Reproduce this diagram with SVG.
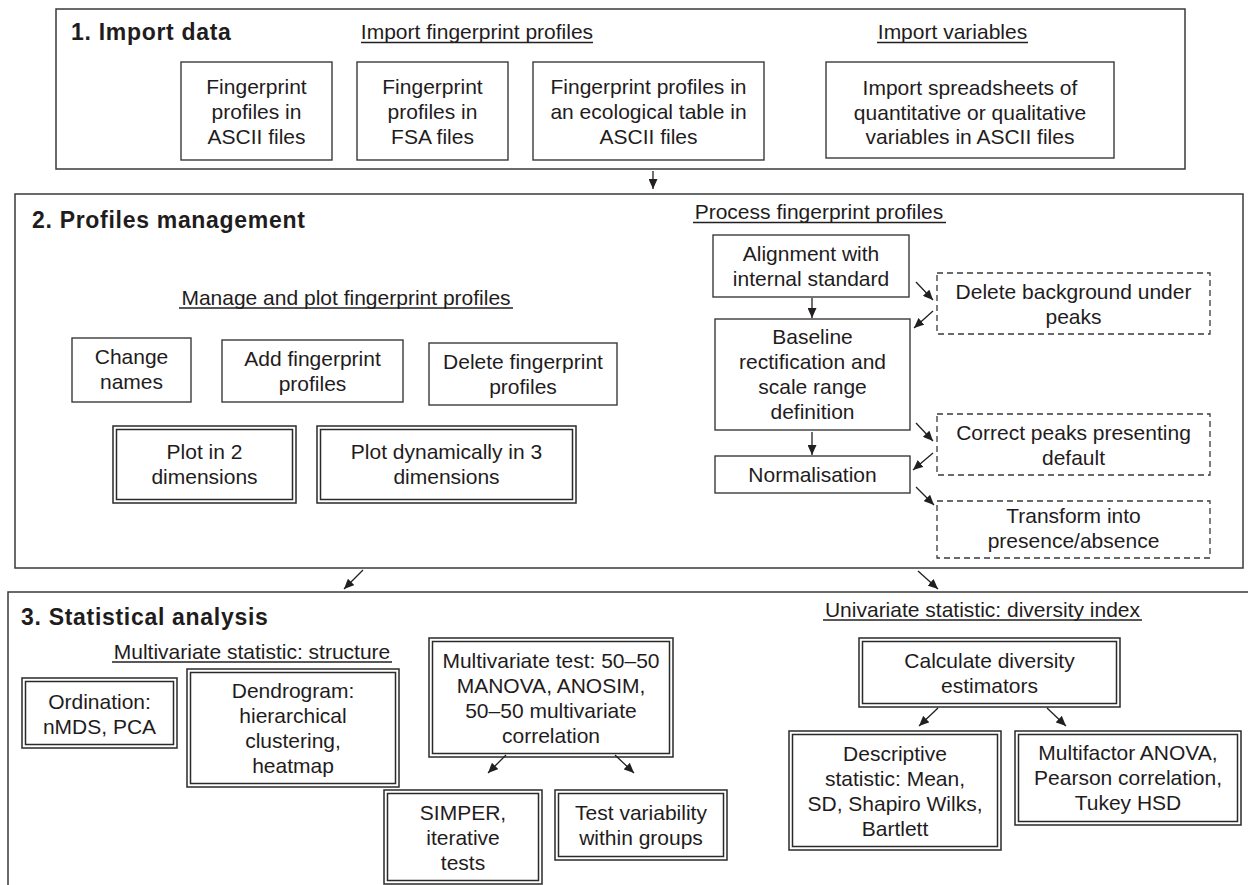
<svg xmlns="http://www.w3.org/2000/svg" width="1248" height="885" viewBox="0 0 1248 885">
<defs>
<marker id="ah" viewBox="0 0 10 9" refX="10" refY="4.5" markerWidth="10" markerHeight="9" markerUnits="userSpaceOnUse" orient="auto">
<path d="M0,0 L10,4.5 L0,9 z" fill="#231f20"/>
</marker>
</defs>
<style>
text{font-family:"Liberation Sans",Arial,Helvetica,sans-serif;fill:#1f1c1d;font-size:21px}
.c{text-anchor:middle}
.h{font-weight:bold;font-size:23px;letter-spacing:0.7px}
.sec{fill:none;stroke:#3a3a3a;stroke-width:1.5}
.b{fill:#fff;stroke:#3a3a3a;stroke-width:1.4}
.d{fill:#fff;stroke:#3a3a3a;stroke-width:1.3;stroke-dasharray:6 4}
.dbl{fill:none;stroke:#2a2a2a;stroke-width:1.5}
.ul{stroke:#231f20;stroke-width:1.4}
.ar{stroke:#231f20;stroke-width:1.3;fill:none;marker-end:url(#ah)}
</style>
<rect width="1248" height="885" fill="#fff"/>

<g id="section1">
<rect class="sec" x="56" y="9" width="1129" height="160"/>
<text class="h" x="71" y="40">1. Import data</text>
<text class="c" x="477" y="39">Import fingerprint profiles</text>
<line class="ul" x1="361" y1="42.5" x2="593" y2="42.5"/>
<text class="c" x="952.5" y="39">Import variables</text>
<line class="ul" x1="877" y1="42.5" x2="1028" y2="42.5"/>
</g>
<g id="n-ascii">
<rect class="b" x="181" y="62" width="151" height="98"/>
<text class="c" x="256.5" y="94">Fingerprint</text>
<text class="c" x="256.5" y="119">profiles in</text>
<text class="c" x="256.5" y="144">ASCII files</text>
</g>
<g id="n-fsa">
<rect class="b" x="357" y="62" width="151" height="98"/>
<text class="c" x="432.5" y="94">Fingerprint</text>
<text class="c" x="432.5" y="119">profiles in</text>
<text class="c" x="432.5" y="144">FSA files</text>
</g>
<g id="n-eco">
<rect class="b" x="533" y="62" width="231" height="98"/>
<text class="c" x="648.5" y="94">Fingerprint profiles in</text>
<text class="c" x="648.5" y="119">an ecological table in</text>
<text class="c" x="648.5" y="144">ASCII files</text>
</g>
<g id="n-vars">
<rect class="b" x="826" y="62" width="288" height="96"/>
<text class="c" x="970" y="95">Import spreadsheets of</text>
<text class="c" x="970" y="120">quantitative or qualitative</text>
<text class="c" x="970" y="144">variables in ASCII files</text>
</g>

<g id="section2">
<rect class="sec" x="15" y="194" width="1228" height="374"/>
<text class="h" x="32" y="228">2. Profiles management</text>
<text class="c" x="346" y="305">Manage and plot fingerprint profiles</text>
<line class="ul" x1="179" y1="308" x2="513" y2="308"/>
<text class="c" x="819" y="219">Process fingerprint profiles</text>
<line class="ul" x1="693" y1="222.5" x2="946" y2="222.5"/>
</g>
<g id="n-change">
<rect class="b" x="72" y="338" width="119" height="64"/>
<text class="c" x="131.5" y="364">Change</text>
<text class="c" x="131.5" y="389">names</text>
</g>
<g id="n-add">
<rect class="b" x="222" y="340" width="181" height="62"/>
<text class="c" x="312.5" y="366">Add fingerprint</text>
<text class="c" x="312.5" y="391">profiles</text>
</g>
<g id="n-delete">
<rect class="b" x="429" y="343" width="188" height="62"/>
<text class="c" x="523" y="369">Delete fingerprint</text>
<text class="c" x="523" y="394">profiles</text>
</g>
<g id="n-plot2">
<rect class="dbl" x="113" y="426" width="183" height="77"/>
<rect class="dbl" x="116.5" y="429.5" width="176" height="70"/>
<text class="c" x="204.5" y="459">Plot in 2</text>
<text class="c" x="204.5" y="484">dimensions</text>
</g>
<g id="n-plot3">
<rect class="dbl" x="317" y="426" width="259" height="77"/>
<rect class="dbl" x="320.5" y="429.5" width="252" height="70"/>
<text class="c" x="446.5" y="459">Plot dynamically in 3</text>
<text class="c" x="446.5" y="484">dimensions</text>
</g>
<g id="n-align">
<rect class="b" x="713" y="235" width="196" height="62"/>
<text class="c" x="811" y="261">Alignment with</text>
<text class="c" x="811" y="286">internal standard</text>
</g>
<g id="n-baseline">
<rect class="b" x="715" y="319" width="195" height="111"/>
<text class="c" x="812.5" y="344">Baseline</text>
<text class="c" x="812.5" y="369">rectification and</text>
<text class="c" x="812.5" y="394">scale range</text>
<text class="c" x="812.5" y="419">definition</text>
</g>
<g id="n-norm">
<rect class="b" x="715" y="456" width="195" height="37"/>
<text class="c" x="812.5" y="482">Normalisation</text>
</g>
<g id="n-delbg">
<rect class="d" x="937" y="273" width="273" height="61"/>
<text class="c" x="1073.5" y="299">Delete background under</text>
<text class="c" x="1073.5" y="324">peaks</text>
</g>
<g id="n-correct">
<rect class="d" x="937" y="414" width="273" height="61"/>
<text class="c" x="1073.5" y="440">Correct peaks presenting</text>
<text class="c" x="1073.5" y="465">default</text>
</g>
<g id="n-transform">
<rect class="d" x="937" y="501" width="273" height="57"/>
<text class="c" x="1073.5" y="523">Transform into</text>
<text class="c" x="1073.5" y="548">presence/absence</text>
</g>

<g id="section3">
<path class="sec" d="M8,886 V592 H1250"/>
<text class="h" x="21" y="625">3. Statistical analysis</text>
<text class="c" x="252" y="659">Multivariate statistic: structure</text>
<line class="ul" x1="112" y1="662" x2="392" y2="662"/>
<text class="c" x="982.5" y="617">Univariate statistic: diversity index</text>
<line class="ul" x1="823" y1="620" x2="1142" y2="620"/>
</g>
<g id="n-ordination">
<rect class="dbl" x="22" y="678" width="155" height="70"/>
<rect class="dbl" x="25.5" y="681.5" width="148" height="63"/>
<text class="c" x="99.5" y="709">Ordination:</text>
<text class="c" x="99.5" y="734">nMDS, PCA</text>
</g>
<g id="n-dendro">
<rect class="dbl" x="187" y="669" width="212" height="118"/>
<rect class="dbl" x="190.5" y="672.5" width="205" height="111"/>
<text class="c" x="293" y="698">Dendrogram:</text>
<text class="c" x="293" y="723">hierarchical</text>
<text class="c" x="293" y="748">clustering,</text>
<text class="c" x="293" y="773">heatmap</text>
</g>
<g id="n-mvtest">
<rect class="dbl" x="429" y="638" width="244" height="119"/>
<rect class="dbl" x="432.5" y="641.5" width="237" height="112"/>
<text class="c" x="551" y="668">Multivariate test: 50–50</text>
<text class="c" x="551" y="693">MANOVA, ANOSIM,</text>
<text class="c" x="551" y="718">50–50 multivariate</text>
<text class="c" x="551" y="743">correlation</text>
</g>
<g id="n-simper">
<rect class="dbl" x="384" y="790" width="158" height="94"/>
<rect class="dbl" x="387.5" y="793.5" width="151" height="87"/>
<text class="c" x="463" y="820">SIMPER,</text>
<text class="c" x="463" y="845">iterative</text>
<text class="c" x="463" y="870">tests</text>
</g>
<g id="n-testvar">
<rect class="dbl" x="555" y="790" width="172" height="70"/>
<rect class="dbl" x="558.5" y="793.5" width="165" height="63"/>
<text class="c" x="641" y="820">Test variability</text>
<text class="c" x="641" y="845">within groups</text>
</g>
<g id="n-calc">
<rect class="dbl" x="859" y="638" width="261" height="69"/>
<rect class="dbl" x="862.5" y="641.5" width="254" height="62"/>
<text class="c" x="989.5" y="668">Calculate diversity</text>
<text class="c" x="989.5" y="693">estimators</text>
</g>
<g id="n-descr">
<rect class="dbl" x="789" y="731" width="212" height="119"/>
<rect class="dbl" x="792.5" y="734.5" width="205" height="112"/>
<text class="c" x="895" y="761">Descriptive</text>
<text class="c" x="895" y="786">statistic: Mean,</text>
<text class="c" x="895" y="811">SD, Shapiro Wilks,</text>
<text class="c" x="895" y="836">Bartlett</text>
</g>
<g id="n-multi">
<rect class="dbl" x="1015" y="731" width="226" height="94"/>
<rect class="dbl" x="1018.5" y="734.5" width="219" height="87"/>
<text class="c" x="1128" y="760">Multifactor ANOVA,</text>
<text class="c" x="1128" y="785">Pearson correlation,</text>
<text class="c" x="1128" y="810">Tukey HSD</text>
</g>

<g id="connectors">
<line class="ar" x1="653" y1="171" x2="653" y2="189"/>
<line class="ar" x1="363" y1="570" x2="344" y2="589"/>
<line class="ar" x1="918" y1="571" x2="938" y2="589"/>
<line class="ar" x1="812" y1="298" x2="812" y2="318"/>
<line class="ar" x1="812" y1="432" x2="812" y2="455"/>
<line class="ar" x1="916" y1="282" x2="933" y2="300"/>
<line class="ar" x1="933" y1="311" x2="914" y2="328"/>
<line class="ar" x1="916" y1="423" x2="933" y2="441"/>
<line class="ar" x1="933" y1="453" x2="913" y2="470"/>
<line class="ar" x1="916" y1="487" x2="934" y2="505"/>
<line class="ar" x1="506" y1="755" x2="488" y2="773"/>
<line class="ar" x1="615" y1="755" x2="634" y2="773"/>
<line class="ar" x1="938" y1="708" x2="919" y2="726"/>
<line class="ar" x1="1047" y1="708" x2="1066" y2="726"/>
</g>
</svg>
